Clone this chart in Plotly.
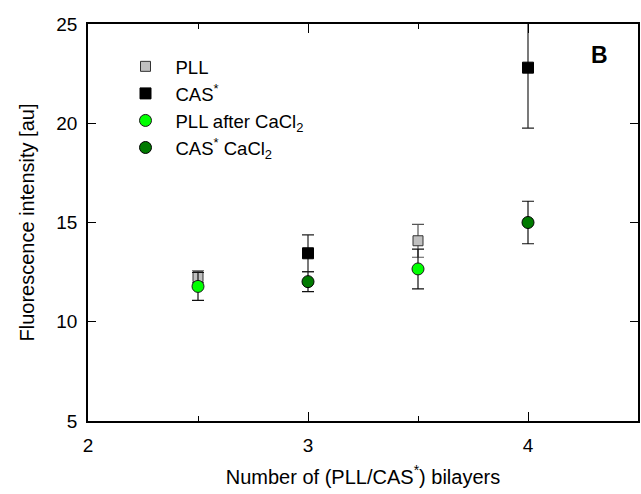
import plotly.graph_objects as go

# Fluorescence intensity vs number of (PLL/CAS*) bilayers
pll_x = [2.5, 3.5]
pll_y = [12.27, 14.08]
pll_err = [0.30, 0.83]

cas_x = [3.0, 4.0]
cas_y = [13.45, 22.8]
cas_err = [0.93, 3.05]

pll_ca_x = [2.5, 3.5]
pll_ca_y = [11.78, 12.66]
pll_ca_err = [0.70, 1.00]

cas_ca_x = [3.0, 4.0]
cas_ca_y = [12.02, 15.0]
cas_ca_err = [0.50, 1.07]

x_ticks = [2, 3, 4]
y_ticks = [5, 10, 15, 20, 25]

FONT = "Liberation Sans, Arial, sans-serif"

fig = go.Figure()


def add_series(x, y, err, name, symbol, fill, edge, errcolor, size):
    fig.add_trace(go.Scatter(
        x=x, y=y, mode="markers", name=name,
        marker=dict(symbol=symbol, size=size, color=fill,
                    line=dict(color=edge, width=1)),
        error_y=dict(type="data", array=err, visible=True,
                     color=errcolor, thickness=1.2, width=6),
    ))


add_series(pll_x, pll_y, pll_err, "PLL", "square", "#c0c0c0", "#333333", "#555555", 10)
add_series(cas_x, cas_y, cas_err, "CAS<sup>*</sup>", "square", "#000000", "#000000", "#222222", 11)
add_series(pll_ca_x, pll_ca_y, pll_ca_err, "PLL after CaCl<sub>2</sub>", "circle", "#00ff00", "#1a1a1a", "#111111", 12)
add_series(cas_ca_x, cas_ca_y, cas_ca_err, "CAS<sup>*</sup> CaCl<sub>2</sub>", "circle", "#007a00", "#000000", "#111111", 12)

fig.add_annotation(x=0.93, y=0.922, xref="paper", yref="paper",
                   xanchor="center", yanchor="middle",
                   text="<b>B</b>", showarrow=False,
                   font=dict(family=FONT, size=23, color="black"))

axis_common = dict(showline=True, linecolor="black", linewidth=1.5, mirror="ticks",
                   ticks="inside", tickcolor="black", tickwidth=1, showgrid=False,
                   zeroline=False, tickfont=dict(family=FONT, size=19, color="black"))

fig.update_xaxes(range=[2, 4.5], tickvals=x_ticks, ticklen=9,
                 ticklabelstandoff=6,
                 minor=dict(ticks="inside", dtick=0.5, tick0=2, ticklen=5,
                            tickcolor="black", tickwidth=1, showgrid=False),
                 title=dict(text="Number of (PLL/CAS<sup>*</sup>) bilayers",
                            font=dict(family=FONT, size=20, color="black"), standoff=15),
                 **axis_common)
fig.update_yaxes(range=[5, 25], tickvals=y_ticks, ticklen=8,
                 ticklabelstandoff=5,
                 title=dict(text="Fluorescence intensity [au]",
                            font=dict(family=FONT, size=20, color="black"), standoff=16),
                 **axis_common)

fig.update_layout(
    width=641, height=494,
    margin=dict(l=88, r=1, t=24, b=73),
    paper_bgcolor="white", plot_bgcolor="white",
    font=dict(family=FONT, color="black"),
    showlegend=True,
    legend=dict(x=0.05, y=0.94, xanchor="left", yanchor="top",
                bgcolor="rgba(0,0,0,0)", borderwidth=0,
                font=dict(family=FONT, size=18.5, color="black"),
                itemwidth=50, tracegroupgap=0),
)

fig.write_html("out.html")
